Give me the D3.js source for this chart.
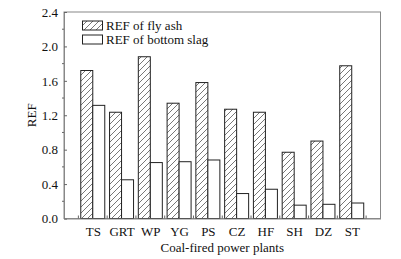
<!DOCTYPE html>
<html><head><meta charset="utf-8">
<script src="https://cdn.jsdelivr.net/npm/d3@7"></script>
<style>body{margin:0;background:#fff}svg{display:block}text{font-family:"Liberation Serif","Times New Roman",serif;fill:#111}</style>
</head><body><svg id="c" width="401" height="259"></svg>
<script>
const categories = ["TS","GRT","WP","YG","PS","CZ","HF","SH","DZ","ST"];
const flyAsh = [1.72,1.235,1.88,1.34,1.58,1.27,1.235,0.77,0.90,1.775];
const bottomSlag = [1.315,0.45,0.65,0.66,0.68,0.29,0.34,0.155,0.165,0.18];
const yTicks = [0.0,0.4,0.8,1.2,1.6,2.0,2.4];
const seriesNames = ["REF of fly ash","REF of bottom slag"];

const svg = d3.select("#c");
const L=64, R=380.5, T=12, B=218.5;
const FS = 13;
const x = d3.scalePoint().domain(categories).range([L,R]).padding(1);
const step = x.step();
const bw = 12;
const y = d3.scaleLinear().domain([0,2.4]).range([B,T]);

const defs = svg.append("defs");
const pat = defs.append("pattern").attr("id","hatch").attr("patternUnits","userSpaceOnUse")
  .attr("width",6).attr("height",6);
pat.append("rect").attr("width",6).attr("height",6).attr("fill","#fff");
pat.append("path").attr("d","M0,6 L6,0 M-1.5,1.5 L1.5,-1.5 M4.5,7.5 L7.5,4.5")
  .attr("stroke","#555").attr("stroke-width",0.8);

svg.append("rect").attr("x",L).attr("y",T).attr("width",R-L).attr("height",B-T)
  .attr("fill","none").attr("stroke","#888").attr("stroke-width",1);

const g = svg.append("g");
g.selectAll(".fa").data(categories).enter().append("rect")
  .attr("x",d=>x(d)-bw).attr("y",(d,i)=>y(flyAsh[i])).attr("width",bw)
  .attr("height",(d,i)=>B-y(flyAsh[i])).attr("fill","url(#hatch)").attr("stroke","#222").attr("stroke-width",1);
g.selectAll(".bs").data(categories).enter().append("rect")
  .attr("x",d=>x(d)).attr("y",(d,i)=>y(bottomSlag[i])).attr("width",bw)
  .attr("height",(d,i)=>B-y(bottomSlag[i])).attr("fill","#fff").attr("stroke","#222").attr("stroke-width",1);

const yAxis = d3.axisLeft(y).tickValues(yTicks).tickFormat(d3.format(".1f")).tickSize(-3).tickPadding(6);
const ya = svg.append("g").attr("transform",`translate(${L},0)`).call(yAxis);
ya.select(".domain").attr("stroke","#888");
ya.selectAll(".tick line").attr("stroke","#666");
ya.selectAll("text").attr("font-size",FS).attr("fill","#111");
const minorY = d3.range(0.2,2.4,0.4);
svg.append("g").selectAll("line").data(minorY).enter().append("line")
  .attr("x1",L-2).attr("x2",L).attr("y1",d=>y(d)).attr("y2",d=>y(d)).attr("stroke","#666");

const xAxis = d3.axisBottom(x).tickSize(0).tickPadding(8);
const xa = svg.append("g").attr("transform",`translate(0,${B})`).call(xAxis);
xa.select(".domain").attr("stroke","#888");
xa.selectAll("text").attr("font-size",FS).attr("fill","#111");
const bounds = d3.range(0,categories.length+1).map(i=>L+step*(i+0.5));
svg.append("g").selectAll("line").data(bounds).enter().append("line")
  .attr("x1",d=>d).attr("x2",d=>d).attr("y1",B).attr("y2",B-3).attr("stroke","#666");

svg.append("text").attr("x",(L+R)/2).attr("y",251.5).attr("text-anchor","middle").attr("font-size",FS).text("Coal-fired power plants");
svg.append("text").attr("transform",`translate(36,${(T+B)/2}) rotate(-90)`).attr("text-anchor","middle").attr("font-size",FS).text("REF");

const lg = svg.append("g");
const ly = [21,35];
lg.selectAll("rect").data(seriesNames).enter().append("rect")
  .attr("x",82.5).attr("y",(d,i)=>ly[i]).attr("width",20).attr("height",9)
  .attr("fill",(d,i)=>i===0?"url(#hatch)":"#fff").attr("stroke","#222").attr("stroke-width",1);
lg.selectAll("text").data(seriesNames).enter().append("text")
  .attr("x",106).attr("y",(d,i)=>ly[i]+8.5).attr("font-size",FS).text(d=>d);
</script></body></html>
